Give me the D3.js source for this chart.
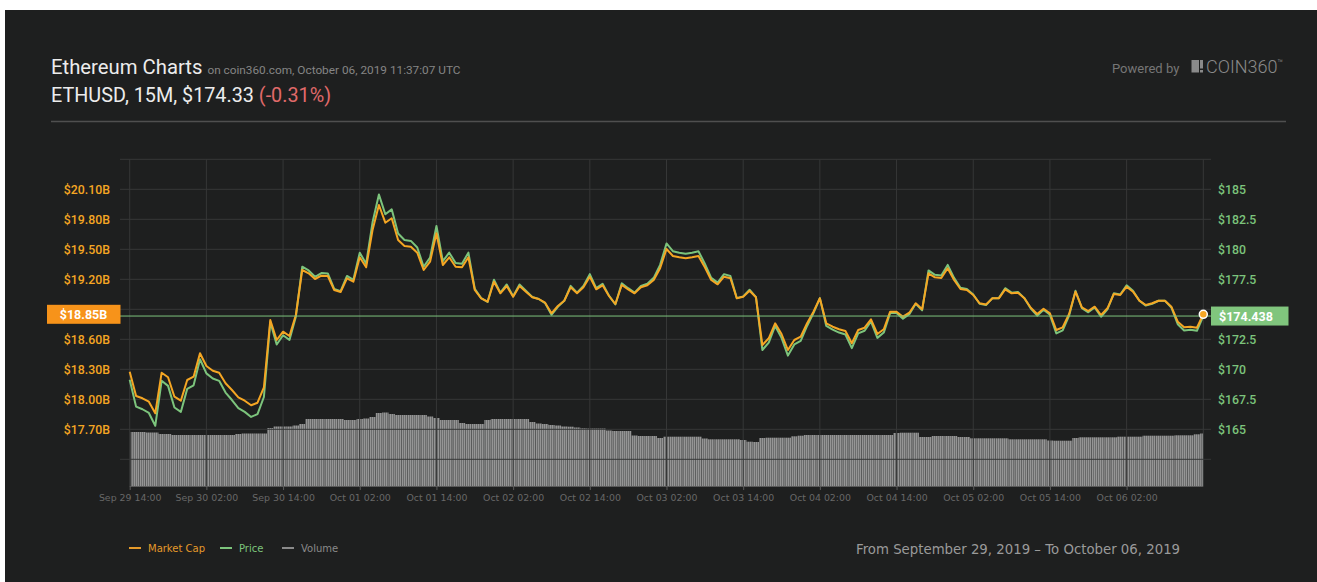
<!DOCTYPE html>
<html><head><meta charset="utf-8">
<script src="https://cdn.jsdelivr.net/npm/d3@7"></script>
<style>html,body{margin:0;padding:0;background:#fff;overflow:hidden}</style>
</head><body>
<svg id="c" width="1317" height="582"></svg>
<script>
// ---------- DATA ----------
const startTime = "2019-09-29T14:00:00Z";   // hourly samples
const endTime   = "2019-10-06T14:00:00Z";

const price = [
169.13,166.89,166.67,166.36,165.29,169.04,168.62,166.82,166.45,168.37,
168.67,170.84,169.66,169.23,169.04,168.06,167.44,166.77,166.45,166.03,
166.27,167.69,173.92,172.07,172.84,172.44,174.38,178.55,178.24,177.71,
178.02,177.99,176.70,176.51,177.78,177.46,179.72,178.80,182.25,184.56,
182.92,183.33,181.32,180.77,180.70,180.15,178.55,179.31,181.94,179.01,
179.72,178.85,178.80,179.72,176.70,175.93,175.61,177.46,176.39,177.07,
176.08,177.07,176.54,176.02,175.86,175.52,174.54,175.21,175.71,176.95,
176.39,176.95,177.93,176.76,177.13,176.14,175.40,177.16,176.76,176.39,
176.95,177.13,177.62,178.70,180.49,179.84,179.72,179.63,179.72,179.84,
178.80,177.62,177.22,177.93,177.78,175.93,176.08,176.63,176.02,171.61,
172.23,173.61,172.62,171.14,172.07,172.37,173.61,174.69,175.93,173.61,
173.30,173.06,172.90,171.76,172.99,173.21,173.98,172.62,173.06,174.69,
174.69,174.22,174.59,175.46,174.91,178.24,177.87,177.81,178.70,177.62,
176.79,176.70,176.23,175.46,175.35,175.93,175.93,176.76,176.39,176.45,
175.93,175.06,174.47,174.96,174.54,172.99,173.24,174.47,176.54,175.09,
174.75,175.15,174.38,175.00,176.33,176.23,177.00,176.54,175.71,175.31,
175.46,175.71,175.71,175.15,173.76,173.24,173.30,173.21,174.44
];

const marketCap = [ // billions USD
18.276,18.033,18.010,17.976,17.860,18.266,18.220,18.026,17.986,18.193,
18.226,18.460,18.333,18.286,18.266,18.160,18.093,18.020,17.986,17.940,
17.966,18.120,18.793,18.593,18.676,18.633,18.843,19.293,19.260,19.203,
19.236,19.233,19.093,19.073,19.210,19.176,19.420,19.320,19.693,19.943,
19.766,19.810,19.593,19.533,19.526,19.466,19.293,19.376,19.660,19.343,
19.420,19.326,19.320,19.420,19.093,19.010,18.976,19.176,19.060,19.133,
19.026,19.133,19.076,19.020,19.003,18.966,18.860,18.933,18.986,19.120,
19.060,19.120,19.226,19.100,19.140,19.033,18.953,19.143,19.100,19.060,
19.120,19.140,19.193,19.310,19.503,19.433,19.420,19.410,19.420,19.433,
19.320,19.193,19.150,19.226,19.210,19.010,19.026,19.086,19.020,18.543,
18.610,18.760,18.653,18.493,18.593,18.626,18.760,18.876,19.010,18.760,
18.726,18.700,18.683,18.560,18.693,18.716,18.800,18.653,18.700,18.876,
18.876,18.826,18.866,18.960,18.900,19.260,19.220,19.213,19.310,19.193,
19.103,19.093,19.043,18.960,18.948,19.010,19.010,19.100,19.060,19.066,
19.010,18.916,18.853,18.906,18.860,18.693,18.720,18.853,19.076,18.920,
18.883,18.926,18.843,18.910,19.053,19.043,19.126,19.076,18.986,18.943,
18.960,18.986,18.986,18.926,18.776,18.720,18.726,18.716,18.850
];

const volume = [ // billions USD (24h)
5.40,5.40,5.40,5.35,5.35,5.20,5.20,5.10,5.10,5.10,
5.10,5.10,5.10,5.10,5.10,5.10,5.10,5.20,5.25,5.25,
5.25,5.25,5.80,5.95,5.95,5.95,6.05,6.20,6.70,6.70,
6.70,6.70,6.70,6.70,6.60,6.60,6.70,6.75,6.90,7.30,
7.35,7.20,7.10,7.10,7.10,7.10,7.10,6.95,6.80,6.60,
6.60,6.60,6.30,6.20,6.20,6.20,6.60,6.70,6.70,6.70,
6.70,6.70,6.70,6.40,6.25,6.20,6.10,6.05,5.95,5.93,
5.85,5.77,5.75,5.75,5.75,5.55,5.50,5.50,5.50,5.05,
5.00,5.00,5.00,4.80,4.93,4.93,4.93,4.93,4.93,4.93,
4.75,4.67,4.67,4.67,4.67,4.67,4.60,4.43,4.40,4.80,
4.83,4.83,4.83,4.83,4.97,5.03,5.10,5.10,5.10,5.10,
5.10,5.10,5.10,5.10,5.10,5.10,5.10,5.10,5.10,5.10,
5.30,5.33,5.33,5.33,4.90,4.90,5.00,5.00,5.00,5.00,
4.90,4.90,4.77,4.77,4.77,4.77,4.77,4.77,4.67,4.67,
4.67,4.67,4.67,4.67,4.55,4.53,4.53,4.53,4.80,4.87,
4.87,4.87,4.87,4.87,4.87,4.93,4.93,4.93,4.93,5.03,
5.03,5.03,5.03,5.03,5.07,5.07,5.07,5.17,5.25
];

// labelled ticks (the 18.90B / $175 levels sit under the current-value boxes)
const marketCapTicks = [17.7,18.0,18.3,18.6,19.2,19.5,19.8,20.1];
const marketCapGrid  = [17.4,17.7,18.0,18.3,18.6,18.9,19.2,19.5,19.8,20.1,20.4];
const priceTicks = [165,167.5,170,172.5,177.5,180,182.5,185];
const xTickLabels = ["Sep 29 14:00","Sep 30 02:00","Sep 30 14:00","Oct 01 02:00","Oct 01 14:00",
  "Oct 02 02:00","Oct 02 14:00","Oct 03 02:00","Oct 03 14:00","Oct 04 02:00","Oct 04 14:00",
  "Oct 05 02:00","Oct 05 14:00","Oct 06 02:00"];
const lastMarketCap = 18.85, lastMarketCapLabel = "$18.85B";
const lastPrice = 174.438, lastPriceLabel = "$174.438";
const legendItems = ["Market Cap","Price","Volume"];

// ---------- STYLE ----------
const C = {bg:"#1e1f1f", grid:"#363737", orange:"#f5a623", green:"#7cc47c", vol:"#959595",
           text:"#ececec"};
const plot = {left:129.7, right:1203.3, top:159.3, bottom:486, gl:120, gr:1211};

const svg = d3.select("#c");
svg.append("rect").attr("width",1317).attr("height",582).attr("fill","#fff");
svg.append("rect").attr("x",5).attr("y",10).attr("width",1312).attr("height",572).attr("fill",C.bg);

// ---------- header ----------
const hdr = svg.append("g").style("font-family","Roboto, sans-serif");
const t1 = hdr.append("text").attr("x",51).attr("y",74).attr("fill",C.text).attr("font-size",20.3);
t1.append("tspan").text("Ethereum Charts");
t1.append("tspan").attr("font-size",11.8).attr("fill","#858585").attr("dx",5)
  .text("on coin360.com, October 06, 2019 11:37:07 UTC");
const t2 = hdr.append("text").attr("x",51).attr("y",102).attr("fill",C.text).attr("font-size",19.8);
t2.append("tspan").text("ETHUSD, 15M, $174.33 ");
t2.append("tspan").attr("fill","#e06a6a").text("(-0.31%)");
svg.append("line").attr("x1",51).attr("x2",1286).attr("y1",121.5).attr("y2",121.5)
  .attr("stroke","#4f4f4f").attr("stroke-width",1.5);
hdr.append("text").attr("x",1112).attr("y",73).attr("fill","#767676").attr("font-size",13).text("Powered by");
svg.append("rect").attr("x",1191.5).attr("y",60).attr("width",7.5).attr("height",12.5).attr("fill","#8a8a8a");
svg.append("rect").attr("x",1200).attr("y",60).attr("width",3).attr("height",8.5).attr("fill","#8a8a8a");
svg.append("rect").attr("x",1200).attr("y",70).attr("width",3).attr("height",2.5).attr("fill","#8a8a8a");
const logo = hdr.append("text").attr("x",1206).attr("y",73).attr("fill","#8a8a8a")
  .attr("font-size",18).attr("font-weight",300);
logo.append("tspan").text("COIN360");
logo.append("tspan").attr("font-size",9).attr("dy",-7).text("™");

// ---------- scales ----------
const parse = d3.isoParse;
const t0 = parse(startTime);
const times = price.map((_, i) => d3.utcHour.offset(t0, i));
const x = d3.scaleUtc().domain([t0, parse(endTime)]).range([plot.left, plot.right]);
const yMC = d3.scaleLinear().domain([17.7, 20.1]).range([429.3, 189.3]);
const yP  = d3.scaleLinear().domain([165, 185]).range([429.3, 189.3]);
const yV  = d3.scaleLinear().domain([0, 10]).range([plot.bottom, plot.bottom - 100]);

// ---------- volume bars ----------
const defs = svg.append("defs");
const pat = defs.append("pattern").attr("id","volpat").attr("patternUnits","userSpaceOnUse")
  .attr("width",2).attr("height",10);
pat.append("rect").attr("width",2).attr("height",10).attr("fill","#5c5d5d");
pat.append("rect").attr("width",1.3).attr("height",10).attr("fill",C.vol);
const step = x(times[1]) - x(times[0]);
svg.append("g").selectAll("rect").data(volume).join("rect")
  .attr("x", (d,i) => Math.max(plot.left + 1, x(times[i]) - step/2))
  .attr("width", (d,i) => {
    const a = Math.max(plot.left + 1, x(times[i]) - step/2);
    const b = Math.min(plot.right, x(times[i]) + step/2);
    return Math.max(0, b - a);
  })
  .attr("y", d => yV(d))
  .attr("height", d => plot.bottom - yV(d))
  .attr("fill","url(#volpat)");

// ---------- grid ----------
const grid = svg.append("g").attr("stroke",C.grid).attr("stroke-width",1);
grid.selectAll("line.h").data(marketCapGrid).join("line")
  .attr("x1",plot.gl).attr("x2",plot.gr)
  .attr("y1",d=>yMC(d)).attr("y2",d=>yMC(d));
const vTimes = d3.range(15).map(i => d3.utcHour.offset(t0, 12*i));
grid.selectAll("line.v").data(vTimes).join("line")
  .attr("x1",d=>x(d)).attr("x2",d=>x(d))
  .attr("y1",plot.top).attr("y2",plot.bottom);

// ---------- x axis ----------
const xTickTimes = xTickLabels.map((_, i) => d3.utcHour.offset(t0, 12*i));
const xa = svg.append("g").attr("transform",`translate(0,${plot.bottom})`)
  .call(d3.axisBottom(x).tickValues(xTickTimes).tickSize(4).tickPadding(4)
        .tickFormat((d,i) => xTickLabels[i]));
xa.select(".domain").attr("stroke","#5a5a5a").attr("d",`M${plot.left},0.5H${plot.right}`);
xa.selectAll(".tick line").attr("stroke","#5a5a5a");
xa.selectAll("text").attr("fill","#686868").style("font-family","'DejaVu Sans', sans-serif").style("font-size","9.4px");

// ---------- y axes ----------
const la = svg.append("g").attr("transform","translate(110,0)")
  .call(d3.axisLeft(yMC).tickValues(marketCapTicks).tickSize(0).tickPadding(0)
        .tickFormat(d => "$" + d.toFixed(2) + "B"));
la.select(".domain").remove();
la.selectAll("text").attr("fill",C.orange).style("font-family","Roboto, sans-serif")
  .style("font-size","12.3px").style("font-weight",500);
const ra = svg.append("g").attr("transform","translate(1218,0)")
  .call(d3.axisRight(yP).tickValues(priceTicks).tickSize(0).tickPadding(0)
        .tickFormat(d => "$" + d));
ra.select(".domain").remove();
ra.selectAll("text").attr("fill",C.green).style("font-family","Roboto, sans-serif")
  .style("font-size","12.3px").style("font-weight",500);

// ---------- lines ----------
const lineP = d3.line().x((d,i)=>x(times[i])).y(d=>yP(d));
const lineM = d3.line().x((d,i)=>x(times[i])).y(d=>yMC(d));
svg.append("path").datum(price).attr("d",lineP).attr("fill","none")
  .attr("stroke",C.green).attr("stroke-width",2).attr("stroke-linejoin","round");
svg.append("path").datum(marketCap).attr("d",lineM).attr("fill","none")
  .attr("stroke",C.orange).attr("stroke-width",2).attr("stroke-linejoin","round");

// ---------- current value markers ----------
const yl = yP(lastPrice);
svg.append("line").attr("x1",plot.gl).attr("x2",plot.gr).attr("y1",yl).attr("y2",yl)
  .attr("stroke",C.green).attr("stroke-width",1);
svg.append("circle").attr("cx",x(times[times.length-1])).attr("cy",yMC(marketCap[marketCap.length-1]))
  .attr("r",4).attr("fill",C.orange).attr("stroke","#fff").attr("stroke-width",1.5);
const ym = yMC(lastMarketCap);
svg.append("rect").attr("x",47).attr("y",ym-9.5).attr("width",73.5).attr("height",19).attr("fill","#f7931a");
svg.append("text").attr("x",83.5).attr("y",ym+4.5).attr("text-anchor","middle").attr("fill","#fff")
  .style("font-family","Roboto, sans-serif").style("font-size","12.5px").style("font-weight",700)
  .text(lastMarketCapLabel);
svg.append("rect").attr("x",1211).attr("y",yl-9.5).attr("width",77.5).attr("height",19).attr("fill","#80c57d");
svg.append("text").attr("x",1219).attr("y",yl+4.5).attr("fill","#fff")
  .style("font-family","Roboto, sans-serif").style("font-size","12.5px").style("font-weight",700)
  .text(lastPriceLabel);

// ---------- legend ----------
const legColors = ["#e59a2a", C.green, "#8a8a8a"];
const legX = [129, 220, 282];
const lg = svg.append("g").style("font-family","'DejaVu Sans', sans-serif").style("font-size","10px");
legendItems.forEach((name, i) => {
  lg.append("line").attr("x1",legX[i]).attr("x2",legX[i]+12).attr("y1",548).attr("y2",548)
    .attr("stroke",legColors[i]).attr("stroke-width",2);
  lg.append("text").attr("x",legX[i]+19).attr("y",551.5).attr("fill",legColors[i]).text(name);
});

// ---------- range text ----------
svg.append("text").attr("x",856).attr("y",554).attr("fill","#9a9a9a")
  .style("font-family","'DejaVu Sans', sans-serif").style("font-size","13.3px")
  .text("From September 29, 2019 – To October 06, 2019");
</script>
</body></html>
